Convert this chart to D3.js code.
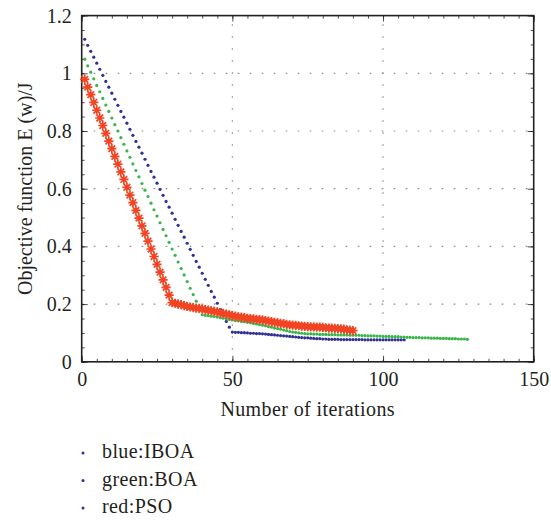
<!DOCTYPE html>
<html>
<head>
<meta charset="utf-8">
<script src="https://cdn.jsdelivr.net/npm/d3@7"></script>
<style>
  body { margin: 0; background: #fff; }
  text { font-family: 'Liberation Serif', 'Times New Roman', serif; fill: #231f20; }
</style>
</head>
<body>
<svg id="chart" width="551" height="523"></svg>
<script>
// iterations start at 1 for every series
let blueIBOA = [
    1.118, 1.097, 1.076, 1.056, 1.035, 1.014, 0.993, 0.972, 0.952, 0.931,
    0.910, 0.889, 0.868, 0.848, 0.827, 0.806, 0.785, 0.764, 0.744, 0.723,
    0.702, 0.681, 0.660, 0.640, 0.619, 0.598, 0.577, 0.556, 0.536, 0.515,
    0.494, 0.473, 0.452, 0.432, 0.411, 0.390, 0.369, 0.348, 0.328, 0.307,
    0.286, 0.265, 0.244, 0.224, 0.203, 0.182, 0.161, 0.140, 0.120, 0.103,
    0.102, 0.102, 0.101, 0.101, 0.100, 0.099, 0.099, 0.098, 0.098, 0.097,
    0.096, 0.095, 0.094, 0.093, 0.092, 0.091, 0.090, 0.089, 0.088, 0.087,
    0.086, 0.085, 0.084, 0.083, 0.083, 0.082, 0.081, 0.080, 0.080, 0.079,
    0.079, 0.078, 0.078, 0.078, 0.078, 0.077, 0.077, 0.077, 0.077, 0.077,
    0.077, 0.077, 0.077, 0.076, 0.076, 0.076, 0.076, 0.076, 0.076, 0.076,
    0.076, 0.076, 0.076, 0.076, 0.076, 0.076, 0.076
]
let greenBOA = [
    1.049, 1.026, 1.004, 0.981, 0.958, 0.936, 0.913, 0.890, 0.868, 0.845,
    0.822, 0.800, 0.777, 0.754, 0.731, 0.709, 0.686, 0.663, 0.641, 0.618,
    0.595, 0.573, 0.550, 0.527, 0.505, 0.482, 0.459, 0.437, 0.414, 0.391,
    0.369, 0.346, 0.323, 0.301, 0.278, 0.255, 0.233, 0.210, 0.187, 0.163,
    0.161, 0.160, 0.158, 0.157, 0.155, 0.153, 0.151, 0.149, 0.147, 0.145,
    0.143, 0.142, 0.140, 0.139, 0.137, 0.135, 0.133, 0.131, 0.129, 0.127,
    0.125, 0.122, 0.120, 0.117, 0.115, 0.113, 0.110, 0.108, 0.105, 0.103,
    0.102, 0.100, 0.099, 0.098, 0.097, 0.097, 0.096, 0.096, 0.095, 0.095,
    0.095, 0.094, 0.094, 0.094, 0.093, 0.093, 0.093, 0.093, 0.092, 0.092,
    0.092, 0.092, 0.091, 0.091, 0.090, 0.090, 0.090, 0.089, 0.089, 0.088,
    0.088, 0.088, 0.087, 0.087, 0.087, 0.086, 0.086, 0.085, 0.085, 0.084,
    0.084, 0.084, 0.083, 0.083, 0.083, 0.082, 0.082, 0.082, 0.081, 0.081,
    0.081, 0.080, 0.080, 0.080, 0.079, 0.079, 0.079, 0.078
]
let redPSO = [
    0.979, 0.952, 0.926, 0.899, 0.872, 0.845, 0.819, 0.792, 0.765, 0.739,
    0.712, 0.685, 0.658, 0.632, 0.605, 0.578, 0.552, 0.525, 0.498, 0.471,
    0.445, 0.418, 0.391, 0.365, 0.338, 0.311, 0.284, 0.258, 0.231, 0.205,
    0.203, 0.200, 0.198, 0.195, 0.192, 0.190, 0.188, 0.186, 0.185, 0.183,
    0.181, 0.179, 0.177, 0.175, 0.173, 0.170, 0.168, 0.165, 0.163, 0.160,
    0.158, 0.156, 0.155, 0.153, 0.151, 0.150, 0.149, 0.147, 0.146, 0.145,
    0.143, 0.141, 0.139, 0.137, 0.135, 0.133, 0.132, 0.130, 0.128, 0.127,
    0.126, 0.125, 0.124, 0.123, 0.122, 0.121, 0.121, 0.120, 0.120, 0.119,
    0.118, 0.117, 0.117, 0.116, 0.115, 0.114, 0.113, 0.111, 0.110, 0.108
]
let xTicks = [0, 50, 100, 150]
let yTicks = [0, 0.2, 0.4, 0.6, 0.8, 1, 1.2]
let legendLabels = ['blue:IBOA', 'green:BOA', 'red:PSO']

function main() {
    let svg = d3.select('#chart'),
        left = 81.7, right = 533.7, top = 15.6, bottom = 361.8

    let x = d3.scaleLinear().domain([0, 150]).range([left, right]),
        y = d3.scaleLinear().domain([0, 1.2]).range([bottom, top])

    let fmt = d => String(+d.toFixed(1))

    // dotted grid at the major ticks
    let grid = svg.append('g')
        .attr('stroke', '#8a8a8a')
        .attr('stroke-width', 1.2)
        .attr('stroke-dasharray', '1.6,10.4')
    grid.selectAll('.gy')
        .data(yTicks.slice(1, -1))
        .enter().append('line')
        .attr('x1', left).attr('x2', right)
        .attr('y1', d => y(d)).attr('y2', d => y(d))
    grid.selectAll('.gx')
        .data(xTicks.slice(1, -1))
        .enter().append('line')
        .attr('y1', bottom).attr('y2', top)
        .attr('x1', d => x(d)).attr('x2', d => x(d))

    // minor ticks (inward, every 5 on x and 0.05 on y)
    let minorX = d3.range(0, 151, 5), minorY = d3.range(0, 1.21, 0.05)
    const styleAxis = g => {
        g.select('.domain').remove()
        g.selectAll('line').attr('stroke', '#231f20').attr('stroke-width', 0.8)
    }
    svg.append('g').attr('transform', 'translate(0,' + bottom + ')')
        .call(d3.axisBottom(x).tickValues(minorX).tickSize(-3).tickFormat(''))
        .call(styleAxis)
    svg.append('g').attr('transform', 'translate(0,' + top + ')')
        .call(d3.axisTop(x).tickValues(minorX).tickSize(-3).tickFormat(''))
        .call(styleAxis)
    svg.append('g').attr('transform', 'translate(' + left + ',0)')
        .call(d3.axisLeft(y).tickValues(minorY).tickSize(-3).tickFormat(''))
        .call(styleAxis)
    svg.append('g').attr('transform', 'translate(' + right + ',0)')
        .call(d3.axisRight(y).tickValues(minorY).tickSize(-3).tickFormat(''))
        .call(styleAxis)

    // major ticks with labels
    let xAxis = svg.append('g').attr('transform', 'translate(0,' + bottom + ')')
        .call(d3.axisBottom(x).tickValues(xTicks).tickSize(-6).tickPadding(12).tickFormat(fmt))
    let yAxis = svg.append('g').attr('transform', 'translate(' + left + ',0)')
        .call(d3.axisLeft(y).tickValues(yTicks).tickSize(-6).tickPadding(10).tickFormat(fmt))
    svg.append('g').attr('transform', 'translate(0,' + top + ')')
        .call(d3.axisTop(x).tickValues(xTicks).tickSize(-6).tickFormat(''))
        .call(styleAxis)
    svg.append('g').attr('transform', 'translate(' + right + ',0)')
        .call(d3.axisRight(y).tickValues(yTicks).tickSize(-6).tickFormat(''))
        .call(styleAxis)
    ;[xAxis, yAxis].forEach(a => {
        a.call(styleAxis)
        a.selectAll('text')
            .attr('font-family', "'Liberation Serif', serif")
            .attr('font-size', 20)
            .attr('fill', '#231f20')
    })
    xAxis.selectAll('text').attr('dy', '0.71em').attr('y', 10)

    // frame
    svg.append('rect')
        .attr('x', left).attr('y', top)
        .attr('width', right - left).attr('height', bottom - top)
        .attr('fill', 'none')
        .attr('stroke', '#231f20')
        .attr('stroke-width', 1.6)

    let plot = svg.append('g')
    let toPoints = arr => arr.map((v, i) => ({it: i + 1, v: v}))

    plot.selectAll('.blue')
        .data(toPoints(blueIBOA))
        .enter().append('circle')
        .attr('cx', d => x(d.it)).attr('cy', d => y(d.v))
        .attr('r', 1.6)
        .attr('fill', '#2e3192')

    plot.selectAll('.green')
        .data(toPoints(greenBOA))
        .enter().append('circle')
        .attr('cx', d => x(d.it)).attr('cy', d => y(d.v))
        .attr('r', 1.6)
        .attr('fill', '#39b54a')

    // asterisk marker like MATLAB '*'
    let r = 4.6, a = 3.3
    let star = 'M' + -r + ',0L' + r + ',0M0,' + -r + 'L0,' + r +
        'M' + -a + ',' + -a + 'L' + a + ',' + a + 'M' + -a + ',' + a + 'L' + a + ',' + -a
    plot.selectAll('.red')
        .data(toPoints(redPSO))
        .enter().append('path')
        .attr('transform', d => 'translate(' + x(d.it) + ',' + y(d.v) + ')')
        .attr('d', star)
        .attr('fill', 'none')
        .attr('stroke', '#f04423')
        .attr('stroke-width', 1.7)

    // x label
    svg.append('text')
        .attr('x', (left + right) / 2)
        .attr('y', 416)
        .attr('text-anchor', 'middle')
        .attr('font-size', 20)
        .attr('letter-spacing', 0.4)
        .text('Number of iterations')

    // y label
    svg.append('text')
        .attr('transform', 'translate(32,' + ((top + bottom) / 2) + ') rotate(-90)')
        .attr('text-anchor', 'middle')
        .attr('font-size', 20)
        .text('Objective function E (w)/J')

    // legend
    let legend = svg.append('g').selectAll('g')
        .data(legendLabels)
        .enter().append('g')
        .attr('transform', (d, i) => 'translate(83,' + (453 + i * 27.5) + ')')
    legend.append('circle')
        .attr('r', 1.5)
        .attr('fill', '#2e3192')
    legend.append('text')
        .attr('x', 19)
        .attr('y', 5)
        .attr('font-size', 20)
        .attr('letter-spacing', 0.4)
        .text(d => d)
}

main()
</script>
</body>
</html>
